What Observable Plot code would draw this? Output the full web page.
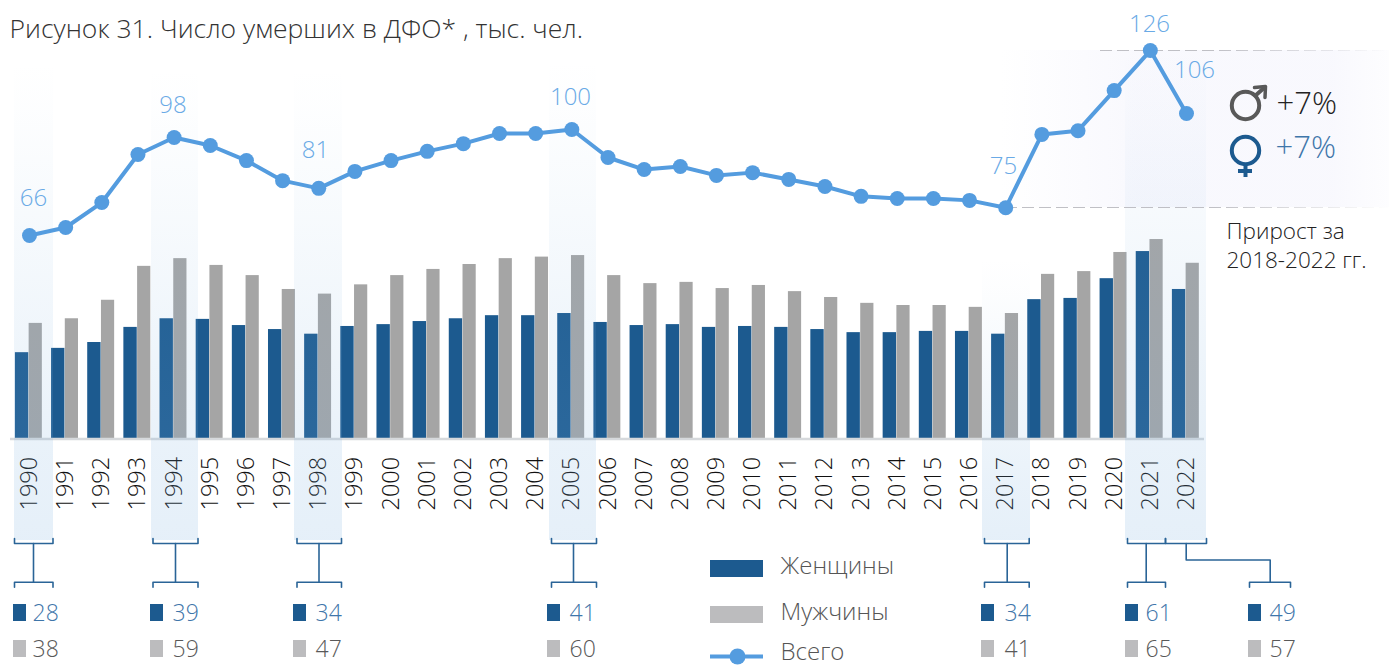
<!DOCTYPE html>
<html lang="ru">
<head>
<meta charset="utf-8">
<script src="https://cdn.jsdelivr.net/npm/d3@7"></script>
<script src="https://cdn.jsdelivr.net/npm/@observablehq/plot@0.6"></script>
<style>
html,body{margin:0;padding:0;background:#fff}
svg{display:block}
</style>
</head>
<body>
<div id="chart"></div>
<script>
const years = [1990,1991,1992,1993,1994,1995,1996,1997,1998,1999,2000,2001,2002,2003,2004,2005,2006,2007,2008,2009,2010,2011,2012,2013,2014,2015,2016,2017,2018,2019,2020,2021,2022];
const women = [28,29.4,31.3,36.2,39,38.8,36.8,35.5,34,36.5,37.1,38.1,39,40,40,40.7,37.8,36.8,37.1,36.2,36.5,36.2,35.5,34.5,34.5,34.9,34.9,34,45.2,45.6,52,60.8,48.5];
const men = [37.5,39,45,56,58.5,56.3,53,48.5,47,50,53,55,56.6,58.5,59,59.5,53,50.4,50.8,48.8,49.8,47.8,45.9,44,43.3,43.3,42.7,40.7,53.4,54.3,60.5,64.7,57];
const total = [66,68.6,76.7,92.3,97.8,95.2,90.3,83.8,81.3,86.8,90.3,93.3,95.8,99.1,99.1,100.4,91.3,87.4,88.4,85.5,86.4,84.2,81.9,78.7,78,78,77.4,75,98.8,100,113,126,105.6];
const totalLabelText = ["66","98","81","100","75","126","106"];
const detailYears = [1990,1994,1998,2005,2017,2021,2022];
const detailWomen = ["28","39","34","41","34","61","49"];
const detailMen = ["38","59","47","60","41","65","57"];

const W = 1389, H = 666, PXY = 36.156, PXV = 3.083, X0 = 29, Y0 = 438.5;
const X = px => 1990 + (px - X0) / PXY;
const Y = px => (Y0 - px) / PXV;
const FONT = "'Open Sans', sans-serif";
const NAVY = "#1c5a8f", GREY = "#a5a5a5", SQGREY = "#bcbcbe", LINE = "#549cdf", BR = "#2a6497", NUMBLUE = "#3f76aa", NUMGREY = "#595959", LBL = "#6aaae6";

const rows = years.map((y,i)=>({year:y,women:women[i],men:men[i],total:total[i]}));

// layout only: label positions for the total series, highlight columns, detail blocks
const labelPos = [[33,198],[172.5,105],[315,150],[570,97],[1003,166],[1149,24],[1194,70]];
const cols = [[14,53,62],[151,198,68],[294,342,68],[549,596,60],[982,1030,258],[1125,1206,50]];
const blocks = [
 {top:[14,52.5], low:[14,52.5], xv:33, sq:13, tx:32},
 {top:[152.5,197.5], low:[152.5,197.5], xv:175, sq:150, tx:172},
 {top:[296.5,341], low:[296.5,341], xv:318.5, sq:293, tx:315},
 {top:[551,596], low:[551,596], xv:573, sq:547, tx:569},
 {top:[984,1028.7], low:[984,1028.7], xv:1006.7, sq:981, tx:1004},
 {top:[1127,1165], low:[1127,1165], xv:1145.7, sq:1125, tx:1145},
 {top:[1165,1206], low:[1249,1290], xv:1269.7, sq:1248, tx:1269, elbow:1185.7}
];
const segs = [];
const addBracket = (a,b,y,dy) => { segs.push([[a,y+dy],[a,y],[b,y],[b,y+dy]]); };
blocks.forEach(b=>{
  addBracket(b.top[0],b.top[1],543,-5);
  addBracket(b.low[0],b.low[1],581.7,5);
  if (b.elbow) segs.push([[b.elbow,543],[b.elbow,559.5],[b.xv,559.5],[b.xv,581.7]]);
  else segs.push([[b.xv,543],[b.xv,581.7]]);
});
const segPts = segs.flatMap((s,i)=>s.map(p=>({i,x:X(p[0]),y:Y(p[1])})));

const T = (data, opts) => Plot.text(data, {fontWeight:300, fontFamily:FONT, lineAnchor:"middle", ...opts});

const plot = Plot.plot({
  width: W, height: H, margin: 0,
  x: {type:"linear", domain:[X(0), X(W)], axis:null},
  y: {type:"linear", domain:[Y(H), Y(0)], axis:null},
  style: {background:"transparent", overflow:"visible"},
  marks: [
    Plot.rect([0],{x1:X(1000),x2:X(W),y1:Y(207),y2:Y(50),fill:"url(#bandH)"}),
    Plot.rectY(rows,{x1:d=>d.year-0.39,x2:d=>d.year-0.02,y:"women",fill:NAVY}),
    Plot.rectY(rows,{x1:d=>d.year-0.01,x2:d=>d.year+0.355,y:"men",fill:GREY}),
    Plot.ruleY([0],{x1:X(10),x2:X(1204),stroke:"#d6d9dc",strokeWidth:2.5}),
    T(rows,{x:"year",y:Y(510),text:d=>String(d.year),rotate:-90,textAnchor:"start",fontSize:23.5,fill:"#111"}),
    Plot.rect(cols,{x1:c=>X(c[0]),x2:c=>X(c[1]),y1:Y(540),y2:c=>Y(c[2]),fill:"url(#col)"}),
    Plot.ruleY([Y(50)],{x1:X(1100),x2:X(W),stroke:"url(#dash)",strokeWidth:1.2,strokeDasharray:"12 5"}),
    Plot.ruleY([Y(207)],{x1:X(1005),x2:X(W),stroke:"url(#dash)",strokeWidth:1.2,strokeDasharray:"12 5"}),
    Plot.line(rows,{x:"year",y:"total",stroke:LINE,strokeWidth:4}),
    Plot.dot(rows,{x:"year",y:"total",r:7.5,fill:LINE}),
    T(labelPos,{x:d=>X(d[0]),y:d=>Y(d[1]),text:(d,i)=>totalLabelText[i],fontSize:24,fill:LBL}),
    Plot.line(segPts,{x:"x",y:"y",z:"i",stroke:BR,strokeWidth:1.6,curve:"linear"}),
    Plot.rect(blocks,{x1:b=>X(b.sq),x2:b=>X(b.sq+13),y1:Y(621),y2:Y(604),fill:NAVY}),
    Plot.rect(blocks,{x1:b=>X(b.sq),x2:b=>X(b.sq+13),y1:Y(657),y2:Y(640),fill:SQGREY}),
    T(blocks,{x:b=>X(b.tx),y:Y(613),text:(b,i)=>detailWomen[i],textAnchor:"start",fontSize:23,fill:NUMBLUE}),
    T(blocks,{x:b=>X(b.tx),y:Y(649),text:(b,i)=>detailMen[i],textAnchor:"start",fontSize:23,fill:NUMGREY}),
    Plot.rect([0],{x1:X(710),x2:X(763),y1:Y(577),y2:Y(560),fill:NAVY}),
    Plot.rect([0],{x1:X(710),x2:X(763),y1:Y(623),y2:Y(606),fill:SQGREY}),
    Plot.ruleY([Y(656)],{x1:X(710),x2:X(763),stroke:LINE,strokeWidth:4}),
    Plot.dot([0],{x:X(737),y:Y(656),r:8,fill:LINE}),
    T(["Женщины","Мужчины","Всего"],{x:X(780),y:(d,i)=>Y([566,612,651.5][i]),text:d=>d,textAnchor:"start",fontSize:24,fill:"#555"}),
    Plot.dot([0],{x:X(1245),y:Y(105),r:13.7,stroke:"#595959",strokeWidth:4,fill:"none"}),
    Plot.line([[1255,95],[1264,87]],{x:d=>X(d[0]),y:d=>Y(d[1]),stroke:"#595959",strokeWidth:4}),
    Plot.line([[1254,87],[1265,86],[1264.5,97]],{x:d=>X(d[0]),y:d=>Y(d[1]),stroke:"#595959",strokeWidth:3.5}),
    T(["+7%"],{x:X(1276),y:Y(104),text:d=>d,textAnchor:"start",fontSize:31,fill:"#222"}),
    Plot.dot([0],{x:X(1245),y:Y(150),r:13.7,stroke:NAVY,strokeWidth:4,fill:"none"}),
    Plot.ruleX([X(1245)],{y1:Y(164),y2:Y(177),stroke:NAVY,strokeWidth:4}),
    Plot.ruleY([Y(170.5)],{x1:X(1238),x2:X(1252),stroke:NAVY,strokeWidth:4}),
    T(["+7%"],{x:X(1275),y:Y(148),text:d=>d,textAnchor:"start",fontSize:31,fill:NUMBLUE}),
    T(["Прирост за"],{x:X(1226),y:Y(231),text:d=>d,textAnchor:"start",fontSize:22.5,fill:"#222"}),
    T(["2018-2022 гг."],{x:X(1226),y:Y(260),text:d=>d,textAnchor:"start",fontSize:22.5,fill:"#222"}),
    T(["Рисунок 31. Число умерших в ДФО* , тыс. чел."],{x:X(9),y:Y(29),text:d=>d,textAnchor:"start",fontSize:26.5,fill:"#333"})
  ]
});

const defsHtml = `
<linearGradient id="col" x1="0" y1="0" x2="0" y2="1">
  <stop offset="0" stop-color="#78aede" stop-opacity="0"/>
  <stop offset="0.1" stop-color="#78aede" stop-opacity="0.015"/>
  <stop offset="0.79" stop-color="#78aede" stop-opacity="0.16"/>
  <stop offset="1" stop-color="#78aede" stop-opacity="0.19"/>
</linearGradient>
<linearGradient id="bandH" x1="0" y1="0" x2="1" y2="0">
  <stop offset="0" stop-color="#eeeefb" stop-opacity="0"/>
  <stop offset="0.35" stop-color="#eeeefb" stop-opacity="0.38"/>
  <stop offset="0.85" stop-color="#eeeefb" stop-opacity="0.38"/>
  <stop offset="1" stop-color="#eeeefb" stop-opacity="0.12"/>
</linearGradient>
<linearGradient id="dash" gradientUnits="userSpaceOnUse" x1="1000" y1="0" x2="${W}" y2="0">
  <stop offset="0" stop-color="#b5b5bb" stop-opacity="0.85"/>
  <stop offset="0.55" stop-color="#b5b5bb" stop-opacity="0.85"/>
  <stop offset="1" stop-color="#b5b5bb" stop-opacity="0"/>
</linearGradient>`;
const defs = document.createElementNS("http://www.w3.org/2000/svg","defs");
defs.innerHTML = defsHtml;
plot.insertBefore(defs, plot.firstChild);
document.getElementById("chart").appendChild(plot);
</script>
</body>
</html>
